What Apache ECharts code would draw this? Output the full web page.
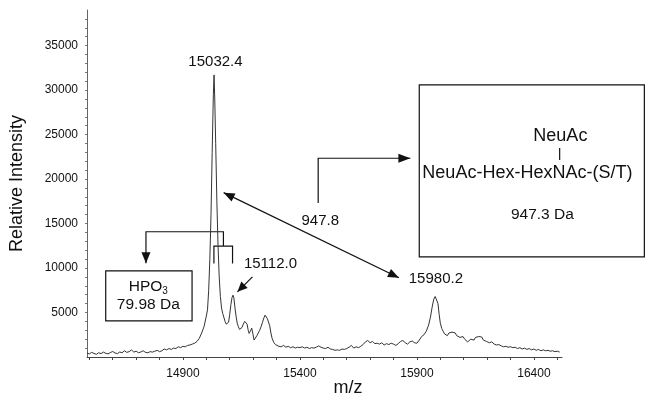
<!DOCTYPE html>
<html><head><meta charset="utf-8">
<script src="https://cdn.jsdelivr.net/npm/echarts@6/dist/echarts.min.js"></script>
<style>html,body{margin:0;padding:0;background:#fff}#c{width:647px;height:395px}</style>
</head><body><div id="c"></div>
<script>
// m/z values and intensities of the spectrum
var mzValues = [14490,14500,14510,14520,14530,14540,14550,14560,14570,14580,14590,14600,14610,14620,14630,14640,14650,14660,14670,14680,14690,14700,14710,14720,14730,14740,14750,14760,14770,14780,14790,14800,14810,14820,14830,14840,14850,14860,14870,14880,14890,14900,14910,14920,14930,14940,14950,14960,14970,14980,14990,15000,15005,15010,15015,15020,15025,15030,15033,15036,15040,15045,15050,15055,15060,15065,15070,15075,15080,15085,15090,15095,15100,15105,15110,15114,15118,15122,15127,15132,15137,15142,15147,15152,15158,15164,15169,15174,15179,15183,15188,15194,15199,15204,15210,15216,15222,15228,15234,15240,15246,15251,15256,15261,15266,15271,15276,15281,15288,15295,15302,15310,15320,15330,15340,15350,15360,15370,15380,15390,15400,15410,15420,15430,15440,15450,15460,15470,15480,15490,15500,15510,15520,15530,15540,15550,15560,15570,15580,15590,15600,15610,15620,15630,15640,15650,15660,15670,15680,15690,15700,15710,15720,15730,15740,15750,15760,15770,15780,15790,15800,15810,15820,15830,15840,15850,15860,15870,15880,15890,15900,15910,15920,15930,15940,15950,15958,15965,15972,15978,15984,15990,15995,16000,16006,16012,16018,16024,16030,16037,16044,16050,16057,16064,16070,16077,16084,16090,16097,16104,16110,16117,16124,16130,16137,16144,16150,16157,16164,16170,16177,16184,16190,16197,16204,16210,16220,16230,16240,16250,16260,16270,16280,16290,16300,16310,16320,16330,16340,16350,16360,16370,16380,16390,16400,16410,16420,16430,16440,16450,16460,16470,16480,16490,16500,16510];
var intensities = [450,350,520,400,300,480,380,550,420,350,500,620,450,380,560,480,700,520,600,800,550,650,480,560,700,520,480,600,550,650,750,600,700,900,800,950,850,1000,950,1150,1050,1200,1150,1300,1350,1450,1550,1750,2100,2700,3400,4600,5300,7500,11000,16000,23000,29500,31700,29000,24000,17500,12500,9000,6800,5500,4900,4700,4000,3700,3550,3900,4800,5900,6700,6950,6600,5600,4600,3800,3400,3100,3000,3300,3700,4000,4150,3700,3000,2650,2900,3250,2600,1900,2100,2400,2700,3000,3400,3900,4400,4700,4500,4300,4100,3500,2700,2100,1650,1400,1300,1200,1150,1300,1100,1200,1050,1150,1000,1100,1050,1150,1000,1100,950,1050,1000,1100,1250,1100,1000,950,1100,900,850,750,800,750,900,850,950,1100,1300,1000,1150,1050,1200,1400,1700,1850,1600,1750,1500,1550,1450,1600,1350,1500,1400,1550,1450,1300,1500,1750,1850,1600,1450,1700,1800,1600,1550,1900,2300,2500,2900,3600,4500,5600,6500,6800,6700,6000,4800,3800,3200,2900,2600,2500,2400,2700,2900,2800,2950,2700,2400,2550,2200,2100,2300,2000,1850,1700,1750,2000,2150,1900,2200,2050,2300,2100,2250,1900,2000,1750,1850,1600,1700,1450,1350,1400,1250,1150,1200,1100,1150,1050,1100,950,1050,900,1000,850,950,800,900,750,850,700,800,700,750,650,700,600,650,550];
var xTickLabels = [14900, 15400, 15900, 16400];
var yTickLabels = [5000, 10000, 15000, 20000, 25000, 30000, 35000];
var peakLabels = ["15032.4", "15112.0", "15980.2"];
var massDiffLabel = "947.8";
var glycanTop = "NeuAc";
var glycanChain = "NeuAc-Hex-HexNAc-(S/T)";
var glycanMass = "947.3 Da";
var hpoName = "HPO";
var hpoMass = "79.98 Da";

var FONT = '"Liberation Sans", Arial, sans-serif';
var xMin = 14490, xMax = 16520, yMin = 0, yMax = 39000;
var xTicks = [], yTicks = [];
for (var t = 14500; t <= 16500; t += 100) xTicks.push(t);
for (var u = 1000; u <= 38000; u += 1000) yTicks.push(u);

var chart = echarts.init(document.getElementById('c'), null, {renderer: 'canvas'});
var data = mzValues.map(function (m, i) { return [m, intensities[i]]; });
function plain(v) { return String(v); }

chart.setOption({
  animation: false,
  backgroundColor: '#fff',
  grid: {left: 81, right: 85, top: 10, bottom: 38},
  xAxis: {
    type: 'value', min: xMin, max: xMax,
    axisLine: {show: true, onZero: false, lineStyle: {color: '#444', width: 1}},
    axisTick: {show: true, customValues: xTicks, length: 3, lineStyle: {color: '#444'}},
    axisLabel: {customValues: xTickLabels, formatter: plain, color: '#111', fontSize: 12, fontFamily: FONT, margin: 11},
    splitLine: {show: false}
  },
  yAxis: {
    type: 'value', min: yMin, max: yMax,
    name: 'Relative Intensity', nameLocation: 'middle', nameGap: 61,
    nameTextStyle: {color: '#111', fontSize: 18, fontFamily: FONT},
    axisLine: {show: true, lineStyle: {color: '#666', width: 1}},
    axisTick: {show: true, customValues: yTicks, length: 2, lineStyle: {color: '#777'}},
    axisLabel: {customValues: yTickLabels, formatter: plain, color: '#111', fontSize: 12, fontFamily: FONT, margin: 9},
    splitLine: {show: false}
  },
  series: [{
    type: 'line', data: data, showSymbol: false, smooth: false,
    lineStyle: {color: '#333', width: 1}
  }]
});

function P(m, v) { return chart.convertToPixel({xAxisIndex: 0, yAxisIndex: 0}, [m, v]); }
var ink = '#111';
var G = [];
function poly(pts) {
  G.push({type: 'polyline', silent: true, shape: {points: pts}, style: {stroke: ink, lineWidth: 1.2, fill: null}});
}
function head(tip, from, len, wid) {
  var dx = tip[0] - from[0], dy = tip[1] - from[1];
  var d = Math.sqrt(dx * dx + dy * dy); dx /= d; dy /= d;
  var bx = tip[0] - dx * len, by = tip[1] - dy * len;
  G.push({type: 'polygon', silent: true, shape: {points: [tip, [bx - dy * wid / 2, by + dx * wid / 2], [bx + dy * wid / 2, by - dx * wid / 2]]}, style: {fill: ink}});
}
function text(s, p, size, align) {
  G.push({type: 'text', silent: true, x: p[0], y: p[1], style: {text: s, fill: ink, font: size + 'px ' + FONT, align: align || 'center', verticalAlign: 'middle'}});
}
function rect(a, b) {
  G.push({type: 'rect', silent: true, shape: {x: a[0], y: a[1], width: b[0] - a[0], height: b[1] - a[1]}, style: {stroke: ink, lineWidth: 1.2, fill: 'none'}});
}

// peak labels
text(peakLabels[0], P(15039, 33180), 15);
text(peakLabels[1], P(15274, 10440), 15);
text(peakLabels[2], P(15981, 8750), 15);
// 15112 arrow
var a1 = P(15197, 9010), a2 = P(15133, 7320);
poly([a1, a2]); head(a2, a1, 10, 9);
// double arrow between peaks
var d1 = P(15074, 18470), d2 = P(15823, 8900);
poly([d1, d2]); head(d1, d2, 11, 9); head(d2, d1, 11, 9);
text(massDiffLabel, P(15487, 15280), 15);
// bent arrow to glycan box
var b0 = P(15478, 17310), b1 = P(15478, 22340), b2 = P(15872, 22340);
poly([b0, b1, b2]); head(b2, b1, 12, 9);
// glycan box
rect(P(15910, 30590), P(16872, 11260));
text(glycanTop, P(16513, 24852), 18);
poly([P(16510, 23500), P(16510, 22150)]);
text(glycanChain, P(16372, 20650), 18);
text(glycanMass, P(16436, 15955), 15.5);
// HPO3 box
rect(P(14570, 9684), P(14939, 4054));
var hp = P(14752, 7882);
G.push({type: 'text', silent: true, x: hp[0], y: hp[1], style: {text: '{a|' + hpoName + '}{b|3}', fill: ink, align: 'center', verticalAlign: 'middle',
  rich: {a: {fontSize: 15.5, fontFamily: FONT, color: ink}, b: {fontSize: 10, fontFamily: FONT, color: ink, padding: [9, 0, 0, 0]}}}});
text(hpoMass, P(14752, 5821), 15.5);
// HPO3 bracket arrow
var h0 = P(14742, 10550), h1 = P(14742, 14075), h2 = P(15073, 14075), h3 = P(15073, 12465);
poly([h0, h1, h2, h3]); head(h0, h1, 11, 9);
poly([P(15032.4, 10517), P(15032.4, 12465), P(15112.0, 12465), P(15112.0, 10517)]);
// x axis name
text('m/z', P(15605, -3528), 18);

chart.setOption({graphic: G});
</script></body></html>
